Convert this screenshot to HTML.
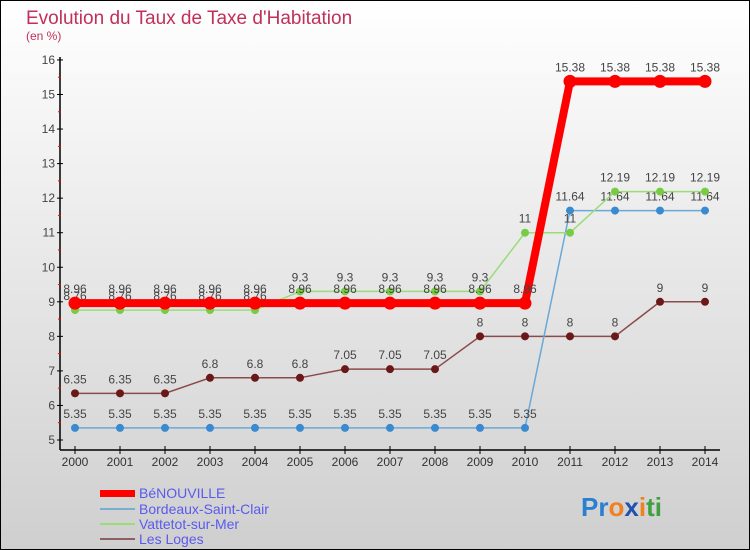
<!DOCTYPE html>
<html><head><meta charset="utf-8"><style>
body{margin:0}
#c{width:750px;height:550px;position:relative;box-sizing:border-box;border:1px solid #000;background:linear-gradient(#ffffff,#cfcfcf);font-family:"Liberation Sans",sans-serif;overflow:hidden}
</style></head><body>
<div id="c">
<svg width="750" height="550" id="svg" style="position:absolute;left:-1px;top:-1px">
<text x="26" y="24" font-size="19" fill="#c0305a">Evolution du Taux de Taxe d'Habitation</text>
<text x="26" y="40" font-size="12" fill="#c0305a">(en %)</text>
<g id="axes"></g><g id="series"></g>
<g>
<rect x="100" y="490" width="35" height="7" fill="#f00"/>
<text x="139" y="498" font-size="14" fill="#5a5aee">BéNOUVILLE</text>
<rect x="100" y="508" width="35" height="2" fill="#7aaed0"/>
<text x="139" y="514" font-size="14" fill="#5a5aee">Bordeaux-Saint-Clair</text>
<rect x="100" y="523" width="35" height="2" fill="#99dd77"/>
<text x="139" y="529" font-size="14" fill="#5a5aee">Vattetot-sur-Mer</text>
<rect x="100" y="538" width="35" height="2" fill="#8b6060"/>
<text x="139" y="544" font-size="14" fill="#5a5aee">Les Loges</text>
</g>
<text x="581" y="516" font-size="26" font-weight="bold"><tspan fill="#2a7fd0">Pr</tspan><tspan fill="#f08020">o</tspan><tspan fill="#2050b0">x</tspan><tspan fill="#f08020">i</tspan><tspan fill="#40a040">ti</tspan></text>
</svg>
</div>
<script>
const years=[2000,2001,2002,2003,2004,2005,2006,2007,2008,2009,2010,2011,2012,2013,2014];
const benouville=[8.96,8.96,8.96,8.96,8.96,8.96,8.96,8.96,8.96,8.96,8.96,15.38,15.38,15.38,15.38];
const bordeaux=[5.35,5.35,5.35,5.35,5.35,5.35,5.35,5.35,5.35,5.35,5.35,11.64,11.64,11.64,11.64];
const vattetot=[8.76,8.76,8.76,8.76,8.76,9.3,9.3,9.3,9.3,9.3,11,11,12.19,12.19,12.19];
const loges=[6.35,6.35,6.35,6.8,6.8,6.8,7.05,7.05,7.05,8,8,8,8,9,9];
const yTicks=[5,6,7,8,9,10,11,12,13,14,15,16];
const NS="http://www.w3.org/2000/svg";
const X=i=>75+i*45, Y=v=>440-(v-5)*34.55;
function mk(t,a,p){const e=document.createElementNS(NS,t);for(const k in a)e.setAttribute(k,a[k]);p.appendChild(e);return e;}
const ax=document.getElementById('axes');
let e=mk('line',{x1:60,y1:57,x2:60,y2:450,stroke:'#000','stroke-width':1.5},ax);


e=mk('line',{x1:60,y1:450,x2:720,y2:450,stroke:'#000','stroke-width':1.5},ax);


yTicks.forEach(v=>{
 mk('line',{x1:57,y1:Y(v),x2:63,y2:Y(v),stroke:'#000'},ax);
 if(v<16) mk('line',{x1:58,y1:Y(v+0.5),x2:61,y2:Y(v+0.5),stroke:'#f00'},ax);
 const t=mk('text',{x:55,y:Y(v)+4,'font-size':12,fill:'#444','text-anchor':'end'},ax);t.textContent=v;
 
 
});
years.forEach((y,i)=>{
 mk('line',{x1:X(i),y1:446,x2:X(i),y2:454,stroke:'#000'},ax);
 const t=mk('text',{x:X(i),y:466,'font-size':12,fill:'#333','text-anchor':'middle'},ax);t.textContent=y;
 
 
});
const sg=document.getElementById('series');
function series(name,data,color,lw,r,dot,labelColor){
 const g=mk('g',{},sg);
 
 
 const l=mk('polyline',{points:data.map((v,i)=>X(i)+','+Y(v)).join(' '),fill:'none',stroke:color,'stroke-width':lw},g);
 
 
 data.forEach((v,i)=>{
  const c=mk('circle',{cx:X(i),cy:Y(v),r:r,fill:dot},g);
  
  
  const t=mk('text',{x:X(i),y:Y(v)-10,'font-size':12,fill:'#444','text-anchor':'middle'},g);t.textContent=v;
  
  
 });
}
series('les-loges',loges,'#8b4b4b',1.5,4,'#6b1818');
series('bordeaux',bordeaux,'#6aa8d8',1.5,4,'#3a8ad0');
series('vattetot',vattetot,'#99dd77',1.5,4,'#77cc44');
series('benouville',benouville,'#f00',8,6.5,'#f00');
</script>
</body></html>
